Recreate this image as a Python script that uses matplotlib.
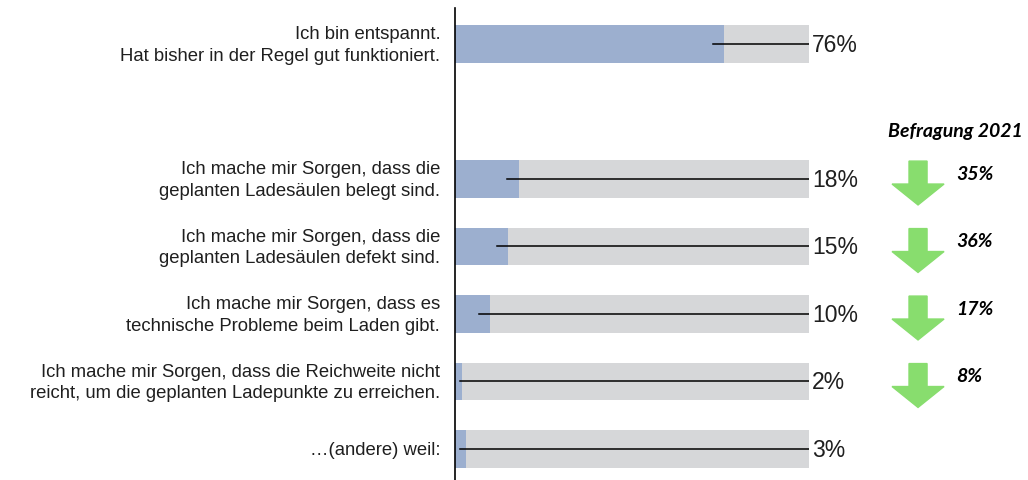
import matplotlib

matplotlib.use('Agg')
import matplotlib.pyplot as plt
from matplotlib.patches import Polygon

# data
labels = [
    'Ich bin entspannt.\nHat bisher in der Regel gut funktioniert.',
    'Ich mache mir Sorgen, dass die\ngeplanten Ladesäulen belegt sind.',
    'Ich mache mir Sorgen, dass die\ngeplanten Ladesäulen defekt sind.',
    'Ich mache mir Sorgen, dass es\ntechnische Probleme beim Laden gibt.',
    'Ich mache mir Sorgen, dass die Reichweite nicht\nreicht, um die geplanten Ladepunkte zu erreichen.',
    '…(andere) weil:',
]
values = [76, 18, 15, 10, 2, 3]
positions = [0, 2, 3, 4, 5, 6]
prev_2021 = [None, 35, 36, 17, 8, None]
prev_title = 'Befragung 2021'

BLUE = '#9cafcf'
GREY = '#d6d7d9'
GREEN = '#88dd6e'
TEXT = '#1f1f1f'
BI_FONT = ['Lato', 'DejaVu Sans']

plt.rcParams['font.family'] = ['Liberation Sans', 'DejaVu Sans']

fig = plt.figure(figsize=(10.28, 4.8), dpi=100)
ax = fig.add_axes([455 / 1028, 0, (809 - 455) / 1028, 1 - 8 / 480])

bar_h = 0.56
ax.barh(positions, [100] * len(values), height=bar_h, color=GREY, zorder=1)
ax.barh(positions, values, height=bar_h, color=BLUE, zorder=2)

for pos, val, lab in zip(positions, values, labels):
    start = max(val - 3.2, 1.5)
    ax.plot([start, 100], [pos, pos], color='black', linewidth=1.1, zorder=3)
    ax.text(100.8, pos + 0.02, f'{val}%', ha='left', va='center', fontsize=16.5,
            color=TEXT, zorder=4)
    ax.text(-4.2, pos + 0.02, lab, ha='right', va='center', fontsize=13.3,
            color=TEXT, linespacing=1.35)

# comparison arrows (previous survey)
ax_x = 130.8
head_w, shaft_w = 14.7, 5.1
arr_h, head_len = 0.65, 0.31
for pos, old in zip(positions, prev_2021):
    if old is None:
        continue
    cy = pos + 0.06
    top, bottom = cy - arr_h / 2, cy + arr_h / 2
    neck = bottom - head_len
    pts = [
        (ax_x - shaft_w / 2, top), (ax_x + shaft_w / 2, top),
        (ax_x + shaft_w / 2, neck), (ax_x + head_w / 2, neck),
        (ax_x, bottom), (ax_x - head_w / 2, neck),
        (ax_x - shaft_w / 2, neck),
    ]
    ax.add_patch(Polygon(pts, closed=True, color=GREEN, clip_on=False, zorder=2))
    ax.text(141.5, pos - 0.07, f'{old}%', ha='left', va='center', fontsize=14,
            fontweight='bold', fontstyle='italic', family=BI_FONT,
            color='black')

ax.text(141.3, positions[1] - 0.7, prev_title, ha='center', va='center', fontsize=14,
        fontweight='bold', fontstyle='italic', family=BI_FONT,
        color='black')

ax.set_xlim(0, 100)
ax.set_ylim(6.46, -0.533)
for side in ['top', 'right', 'bottom']:
    ax.spines[side].set_visible(False)
ax.spines['left'].set_linewidth(1.2)
ax.spines['left'].set_color('black')
ax.set_xticks([])
ax.set_yticks([])
ax.patch.set_visible(False)

fig.savefig('out.png', dpi=100)
